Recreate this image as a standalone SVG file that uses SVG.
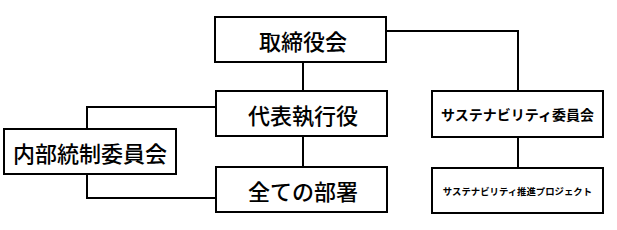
<svg xmlns="http://www.w3.org/2000/svg" width="617" height="230" viewBox="0 0 617 230">
<style>
.box{fill:#fff;stroke:#000;stroke-width:2}
.ln{fill:none;stroke:#000;stroke-width:2}
text{font-family:"Noto Sans CJK JP","Noto Sans",sans-serif;text-anchor:middle;dominant-baseline:central;fill:#000}
.big{font-size:22px;font-weight:500}
.mid{font-size:14px;font-weight:700}
.sm{font-size:9.4px;font-weight:700}
</style>
<rect width="617" height="230" fill="#fff"/>
<g id="connectors">
<path class="ln" d="M303 62V91"/>
<path class="ln" d="M303 136V167"/>
<path class="ln" d="M87 129V107H216"/>
<path class="ln" d="M87 174V198H216"/>
<path class="ln" d="M386 31H518V91"/>
<path class="ln" d="M518 137V168"/>
</g>
<g id="board"><rect class="box" x="215" y="17" width="171" height="45"/><text class="big" x="303" y="40">取締役会</text></g>
<g id="ceo"><rect class="box" x="216" y="91" width="171" height="45"/><text class="big" x="303" y="114">代表執行役</text></g>
<g id="internal"><rect class="box" x="4" y="129" width="172" height="45"/><text class="big" x="90" y="152">内部統制委員会</text></g>
<g id="depts"><rect class="box" x="216" y="167" width="171" height="45"/><text class="big" x="303" y="190">全ての部署</text></g>
<g id="sustain"><rect class="box" x="432" y="91" width="171" height="46"/><text class="mid" x="517.5" y="114">サステナビリティ委員会</text></g>
<g id="project"><rect class="box" x="432" y="168" width="171" height="45"/><text class="sm" x="517.5" y="190.5">サステナビリティ推進プロジェクト</text></g>
</svg>
